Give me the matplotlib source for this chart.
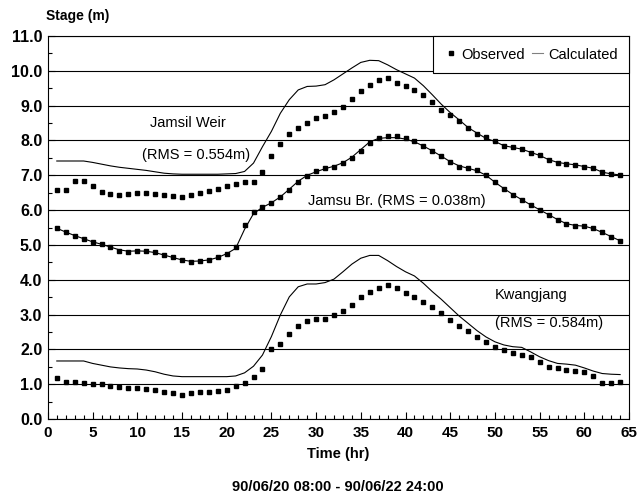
"""Observed vs calculated stage hydrographs (Jamsil Weir, Jamsu Br., Kwangjang)"""

import matplotlib

matplotlib.use("Agg")  # Non-interactive backend
import matplotlib.pyplot as plt
from matplotlib.ticker import MultipleLocator

plt.rcParams["font.family"] = ["Liberation Sans", "DejaVu Sans"]

# Saat (1..64)
hours = list(range(1, 65))

# Jamsil Weir
jamsil_obs = [6.58, 6.58, 6.84, 6.84, 6.68, 6.53, 6.47, 6.44, 6.47, 6.48,
              6.48, 6.47, 6.44, 6.41, 6.39, 6.44, 6.50, 6.55, 6.61, 6.68,
              6.75, 6.81, 6.81, 7.10, 7.56, 7.90, 8.18, 8.35, 8.51, 8.65,
              8.71, 8.83, 8.97, 9.19, 9.43, 9.60, 9.73, 9.79, 9.66, 9.57,
              9.45, 9.31, 9.10, 8.88, 8.72, 8.57, 8.37, 8.18, 8.09, 7.97,
              7.85, 7.80, 7.75, 7.65, 7.57, 7.44, 7.36, 7.33, 7.30, 7.25,
              7.20, 7.08, 7.04, 7.01]
jamsil_calc = [7.41, 7.41, 7.41, 7.41, 7.37, 7.32, 7.27, 7.23, 7.20, 7.17,
               7.14, 7.10, 7.06, 7.04, 7.03, 7.03, 7.03, 7.03, 7.03, 7.04,
               7.05, 7.11, 7.35, 7.82, 8.26, 8.78, 9.17, 9.45, 9.55, 9.56,
               9.60, 9.74, 9.91, 10.08, 10.24, 10.30, 10.29, 10.17, 10.03, 9.91,
               9.79, 9.57, 9.31, 9.04, 8.80, 8.59, 8.37, 8.21, 8.06, 7.97,
               7.85, 7.80, 7.75, 7.66, 7.57, 7.45, 7.37, 7.33, 7.30, 7.25,
               7.20, 7.09, 7.04, 7.01]

# Jamsu Br.
jamsu_obs = [5.48, 5.36, 5.27, 5.17, 5.08, 5.03, 4.95, 4.84, 4.81, 4.84,
             4.84, 4.79, 4.72, 4.65, 4.57, 4.52, 4.55, 4.57, 4.65, 4.74,
             4.95, 5.57, 5.94, 6.08, 6.20, 6.37, 6.58, 6.82, 6.98, 7.11,
             7.20, 7.25, 7.35, 7.49, 7.71, 7.94, 8.07, 8.13, 8.13, 8.07,
             7.99, 7.85, 7.71, 7.54, 7.38, 7.25, 7.20, 7.14, 7.01, 6.80,
             6.61, 6.44, 6.29, 6.15, 6.01, 5.86, 5.72, 5.60, 5.55, 5.55,
             5.48, 5.36, 5.24, 5.12]
jamsu_calc = [5.48, 5.37, 5.27, 5.18, 5.09, 5.02, 4.94, 4.86, 4.82, 4.83,
              4.82, 4.78, 4.71, 4.64, 4.57, 4.53, 4.54, 4.57, 4.64, 4.75,
              4.90, 5.45, 5.90, 6.08, 6.21, 6.38, 6.60, 6.83, 7.00, 7.10,
              7.19, 7.26, 7.36, 7.52, 7.74, 7.96, 8.06, 8.08, 8.08, 8.04,
              7.96, 7.84, 7.70, 7.55, 7.39, 7.27, 7.20, 7.13, 7.00, 6.80,
              6.62, 6.45, 6.30, 6.15, 6.01, 5.87, 5.73, 5.61, 5.56, 5.54,
              5.47, 5.36, 5.24, 5.12]

# Kwangjang
kwang_obs = [1.19, 1.07, 1.07, 1.05, 1.01, 1.01, 0.96, 0.91, 0.90, 0.90,
             0.88, 0.83, 0.78, 0.74, 0.69, 0.74, 0.78, 0.78, 0.81, 0.83,
             0.95, 1.04, 1.22, 1.43, 2.01, 2.16, 2.44, 2.67, 2.82, 2.87,
             2.87, 2.99, 3.11, 3.29, 3.51, 3.66, 3.76, 3.85, 3.76, 3.63,
             3.50, 3.37, 3.21, 3.04, 2.86, 2.68, 2.54, 2.36, 2.22, 2.06,
             1.98, 1.91, 1.84, 1.77, 1.65, 1.50, 1.46, 1.41, 1.38, 1.36,
             1.24, 1.05, 1.05, 1.07]
kwang_calc = [1.67, 1.67, 1.67, 1.67, 1.60, 1.55, 1.50, 1.47, 1.45, 1.44,
              1.41, 1.36, 1.29, 1.24, 1.22, 1.22, 1.22, 1.22, 1.22, 1.22,
              1.24, 1.33, 1.52, 1.84, 2.37, 2.99, 3.51, 3.80, 3.88, 3.88,
              3.92, 4.02, 4.23, 4.45, 4.62, 4.70, 4.70, 4.55, 4.38, 4.23,
              4.11, 3.90, 3.66, 3.44, 3.20, 2.96, 2.75, 2.54, 2.36, 2.22,
              2.13, 2.08, 2.06, 1.93, 1.79, 1.68, 1.60, 1.58, 1.55, 1.47,
              1.38, 1.31, 1.29, 1.28]

fig = plt.figure(figsize=(6.38, 4.99), dpi=100)
ax = fig.add_axes([0.075, 0.160, 0.911, 0.768])

# Gozlem noktalari ve hesaplanan egriler
for obs, calc in [(jamsil_obs, jamsil_calc), (jamsu_obs, jamsu_calc),
                  (kwang_obs, kwang_calc)]:
    ax.plot(hours, calc, color="black", lw=0.8)
    ax.plot(hours, obs, ls="none", marker="s", ms=3.2, color="black")

ax.set_xlim(0, 65)
ax.set_ylim(0, 11)
ax.xaxis.set_major_locator(MultipleLocator(5))
ax.xaxis.set_minor_locator(MultipleLocator(1))
ax.yaxis.set_major_locator(MultipleLocator(1))
ax.yaxis.set_minor_locator(MultipleLocator(0.5))
ax.yaxis.set_major_formatter(lambda v, p: f"{v:.1f}")
ax.grid(True, axis="y", which="major", color="black", lw=0.8)
ax.tick_params(which="both", direction="in", width=0.8)
ax.tick_params(axis="y", labelsize=11.5, pad=4)
ax.tick_params(axis="x", labelsize=11, pad=5)
ax.tick_params(which="major", length=5)
ax.tick_params(which="minor", length=3)
for lbl in ax.get_xticklabels() + ax.get_yticklabels():
    lbl.set_fontweight("bold")
for sp in ax.spines.values():
    sp.set_linewidth(0.8)

# Lejant
h_obs = plt.Line2D([], [], ls="none", marker="s", ms=2.5, color="black")
h_calc = plt.Line2D([], [], color="gray", lw=0.8)
leg = ax.legend([h_obs, h_calc], ["Observed", "Calculated"], ncol=2,
                loc="upper right", fancybox=False, edgecolor="black",
                borderaxespad=0, handlelength=0.8, handletextpad=0.3,
                columnspacing=0.5, fontsize=10.5, borderpad=0.8,
                framealpha=1)
leg.get_frame().set_linewidth(0.8)

# Istasyon etiketleri
ax.text(15.7, 8.50, "Jamsil Weir", ha="center", va="center", fontsize=10.5)
ax.text(16.6, 7.57, "(RMS = 0.554m)", ha="center", va="center", fontsize=10.5)
ax.text(39.0, 6.25, "Jamsu Br. (RMS = 0.038m)", ha="center", va="center",
        fontsize=10.5)
ax.text(50.0, 3.56, "Kwangjang", ha="left", va="center", fontsize=10.5)
ax.text(50.0, 2.76, "(RMS = 0.584m)", ha="left", va="center", fontsize=10.5)

fig.text(0.072, 0.968, "Stage (m)", ha="left", va="center", fontsize=10,
         fontweight="bold")
fig.text(0.53, 0.090, "Time (hr)", ha="center", va="center", fontsize=10.5,
         fontweight="bold")
fig.text(0.53, 0.024, "90/06/20 08:00 - 90/06/22 24:00", ha="center",
         va="center", fontsize=10.5, fontweight="bold")

plt.savefig("out.png", dpi=100)
plt.close()
